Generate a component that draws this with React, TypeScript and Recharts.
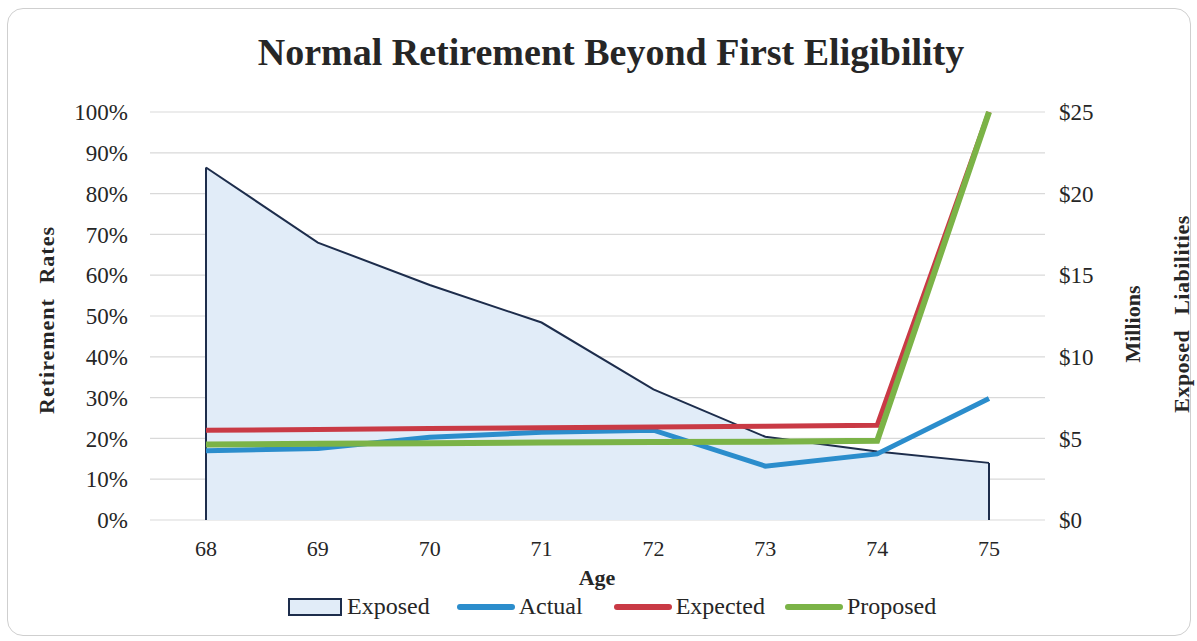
import React from "react"
import {
  ComposedChart,
  Area,
  Line,
  XAxis,
  YAxis,
  CartesianGrid,
  ReferenceLine,
} from "recharts"

// ages along the bottom
const ages = ["68", "69", "70", "71", "72", "73", "74", "75"]
// exposed liabilities, $ millions (right axis)
const exposed = [21.6, 17.0, 14.4, 12.1, 8.0, 5.1, 4.2, 3.5]
// retirement rates, % (left axis)
const actual = [17, 17.5, 20.3, 21.5, 22, 13.2, 16.2, 29.8]
const expected = [22, 22.2, 22.4, 22.6, 22.8, 23, 23.2, 100]
const proposed = [18.5, 18.7, 18.8, 19, 19.1, 19.2, 19.4, 100]

const rateTicks = [0, 10, 20, 30, 40, 50, 60, 70, 80, 90, 100]
const moneyTicks = [0, 5, 10, 15, 20, 25]

const FONT = '"Liberation Serif", "Times New Roman", serif'
const TEXT = "#262626"

const COLORS = {
  exposedFill: "#e1ecf8",
  exposedStroke: "#1d2d4c",
  actual: "#2b8dcc",
  expected: "#c93a45",
  proposed: "#7bb347",
}

const data = ages.map((age, i) => ({
  age,
  exposed: exposed[i],
  actual: actual[i],
  expected: expected[i],
  proposed: proposed[i],
}))

function LegendItem({ kind, color, label, gap }: { kind: "box" | "line"; color: string; label: string; gap: number }) {
  return (
    <div style={{ display: "flex", alignItems: "center", marginRight: gap }}>
      {kind === "box" ? (
        <div
          style={{
            width: 50,
            height: 14,
            background: COLORS.exposedFill,
            border: `2px solid ${COLORS.exposedStroke}`,
            marginRight: 5,
          }}
        />
      ) : (
        <div style={{ width: 58, height: 6, borderRadius: 3, background: color, marginRight: 4 }} />
      )}
      <span>{label}</span>
    </div>
  )
}

const vertLabel = (left: number, top: number): React.CSSProperties => ({
  position: "absolute",
  left,
  top,
  transform: "translate(-50%, -50%) rotate(-90deg)",
  whiteSpace: "nowrap",
  fontSize: 22,
  fontWeight: 700,
})

export default function App() {
  return (
    <div
      style={{
        position: "absolute",
        left: 0,
        top: 0,
        width: 1197,
        height: 641,
        background: "#fff",
        fontFamily: FONT,
        color: TEXT,
      }}
    >
      <div
        style={{
          position: "absolute",
          left: 7,
          top: 8,
          width: 1182,
          height: 626,
          border: "1.5px solid #cfcfcf",
          borderRadius: 16,
        }}
      />

      <div
        style={{
          position: "absolute",
          left: 0,
          width: 1222,
          top: 30,
          textAlign: "center",
          fontSize: 38,
          fontWeight: 700,
        }}
      >
        Normal Retirement Beyond First Eligibility
      </div>

      <ComposedChart
        width={1197}
        height={641}
        data={data}
        margin={{ top: 112, right: 72, left: 70, bottom: 81 }}
        style={{ position: "absolute", left: 0, top: 0 }}
      >
        <CartesianGrid yAxisId="left" vertical={false} stroke="#d9d9d9" strokeWidth={1.2} />
        <XAxis
          dataKey="age"
          padding={{ left: 56, right: 56 }}
          axisLine={false}
          tickLine={false}
          tickSize={0}
          tickMargin={20}
          height={40}
          tick={{ fill: TEXT, fontSize: 22, fontFamily: FONT }}
        />
        <YAxis
          yAxisId="left"
          domain={[0, 100]}
          ticks={rateTicks}
          tickFormatter={(v: number) => `${v}%`}
          axisLine={false}
          tickLine={false}
          tickSize={0}
          tickMargin={22}
          width={80}
          tick={{ fill: TEXT, fontSize: 23, fontFamily: FONT }}
        />
        <YAxis
          yAxisId="right"
          orientation="right"
          domain={[0, 25]}
          ticks={moneyTicks}
          tickFormatter={(v: number) => `$${v}`}
          axisLine={false}
          tickLine={false}
          tickSize={0}
          tickMargin={14}
          width={80}
          tick={{ fill: TEXT, fontSize: 23, fontFamily: FONT }}
        />
        <Area
          yAxisId="right"
          type="linear"
          dataKey="exposed"
          name="Exposed"
          fill={COLORS.exposedFill}
          fillOpacity={1}
          stroke={COLORS.exposedStroke}
          strokeWidth={2}
          isAnimationActive={false}
        />
        <ReferenceLine
          yAxisId="right"
          segment={[
            { x: ages[0], y: 0 },
            { x: ages[0], y: exposed[0] },
          ]}
          stroke={COLORS.exposedStroke}
          strokeWidth={2}
        />
        <ReferenceLine
          yAxisId="right"
          segment={[
            { x: ages[ages.length - 1], y: 0 },
            { x: ages[ages.length - 1], y: exposed[exposed.length - 1] },
          ]}
          stroke={COLORS.exposedStroke}
          strokeWidth={2}
        />
        <Line
          yAxisId="left"
          type="linear"
          dataKey="actual"
          name="Actual"
          stroke={COLORS.actual}
          strokeWidth={5}
          dot={false}
          isAnimationActive={false}
        />
        <Line
          yAxisId="left"
          type="linear"
          dataKey="expected"
          name="Expected"
          stroke={COLORS.expected}
          strokeWidth={5}
          dot={false}
          isAnimationActive={false}
        />
        <Line
          yAxisId="left"
          type="linear"
          dataKey="proposed"
          name="Proposed"
          stroke={COLORS.proposed}
          strokeWidth={6}
          dot={false}
          isAnimationActive={false}
        />
      </ComposedChart>

      {/* axis titles */}
      <div style={{ ...vertLabel(47, 320), letterSpacing: 1, wordSpacing: 8 }}>Retirement Rates</div>
      <div style={vertLabel(1133, 324)}>Millions</div>
      <div style={{ ...vertLabel(1182, 314), letterSpacing: 0.5, wordSpacing: 9 }}>Exposed Liabilities</div>
      <div
        style={{
          position: "absolute",
          left: 0,
          width: 1194,
          top: 565,
          textAlign: "center",
          fontSize: 22,
          fontWeight: 700,
        }}
      >
        Age
      </div>

      {/* legend */}
      <div
        style={{
          position: "absolute",
          left: 288,
          top: 593,
          display: "flex",
          alignItems: "center",
          fontSize: 24,
        }}
      >
        <LegendItem kind="box" color={COLORS.exposedStroke} label="Exposed" gap={27} />
        <LegendItem kind="line" color={COLORS.actual} label="Actual" gap={31} />
        <LegendItem kind="line" color={COLORS.expected} label="Expected" gap={20} />
        <LegendItem kind="line" color={COLORS.proposed} label="Proposed" gap={0} />
      </div>
    </div>
  )
}
